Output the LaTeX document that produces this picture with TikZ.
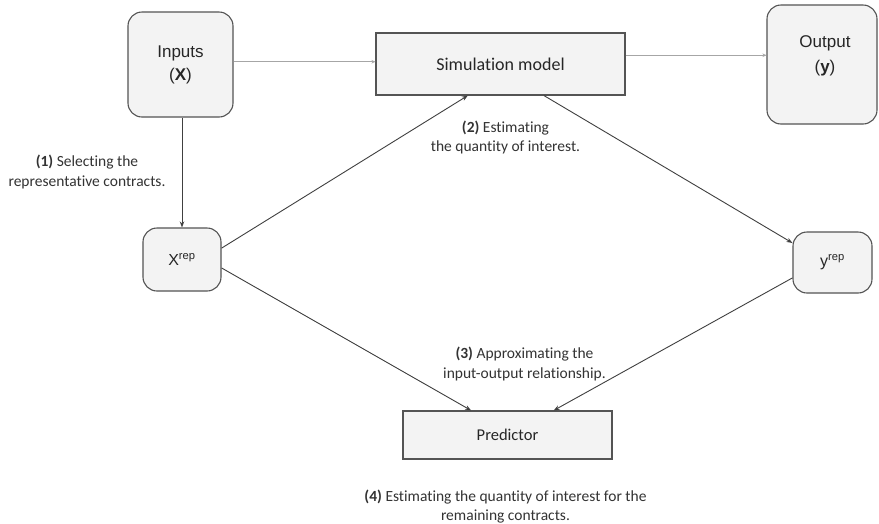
\documentclass[tikz,border=0pt]{standalone}
\usepackage{fontspec}
\setmainfont{Carlito}[Ligatures = NoCommon]
\newfontfamily\arialfont{Liberation Sans}
\usetikzlibrary{arrows.meta}
\usetikzlibrary{positioning}
\tikzset{box/.style = {draw = boxline, fill = boxfill, line width = 1.1,
                       inner sep = 0, text = black!85}}
\tikzset{rbox/.style = {box, rounded corners = 14, font = \arialfont\fontsize{17}{23}\selectfont}}
\tikzset{note/.style = {align = center, text = black!80, font = \fontsize{15.5}{19.5}\selectfont}}
\tikzset{flow/.style = {draw = black!75, line width = 0.9,
                        -{Stealth[length = 6, width = 4.5]}}}
\tikzset{feed/.style = {draw = black!35, line width = 0.9,
                        -{Stealth[length = 4, width = 3.5]}}}
\definecolor{boxfill}{rgb}{0.953, 0.953, 0.953}
\definecolor{boxline}{rgb}{0.33, 0.33, 0.33}

\begin{document}
\begin{tikzpicture}[x = 1pt, y = -1pt]
    \useasboundingbox [fill = white] (0, 0) rectangle (879, 523);

    \node [rbox, align = center, minimum width = 105, minimum height = 105] (inputs) at (180.5, 64.5) {Inputs\\(\textbf{X})};
    \node [box, minimum width = 249, minimum height = 62, font = \fontsize{18}{22}\selectfont] (sim) at (500.5, 64) {Simulation model};
    \node [rbox, minimum width = 110, minimum height = 119] (output) at (822, 64.5) {};
    \node [align = center, text = black!85, font = \arialfont\fontsize{17}{25}\selectfont] (outtext) at (825, 56) {Output\\(\textbf{y})};

    \node [rbox, minimum width = 78, minimum height = 63, font = \arialfont\fontsize{16}{20}\selectfont] (xrep) at (182, 259.5) {X\textsuperscript{rep}};
    \node [rbox, minimum width = 79, minimum height = 61, font = \arialfont\fontsize{16}{20}\selectfont] (yrep) at (832.5, 262.5) {y\textsuperscript{rep}};
    \node [box, minimum width = 209, minimum height = 48, font = \fontsize{16.5}{20}\selectfont] (pred) at (507.5, 435) {Predictor};

    \draw [feed] (inputs.3) -- (inputs.3 -| sim.west);
    \draw [feed] (sim.4) -- (sim.4 -| output.west);
    \draw [flow] (inputs.south -| xrep.north) -- (xrep.north);
    \draw [flow] (xrep.16) -- (sim.224);
    \draw [flow] (sim.324) -- (yrep.154);
    \draw [flow] (xrep.-12) -- (pred.146);
    \draw [flow] (yrep.201) -- (pred.28);

    \node [note] (step1) at (87, 172) {\textbf{(1)} Selecting the\\representative contracts.};
    \node [note] (step2) at (505.5, 137.5) {\textbf{(2)} Estimating\\the quantity of interest.};
    \node [note] (step3) at (524.5, 364) {\textbf{(3)} Approximating the\\input-output relationship.};
    \node [note] (step4) at (505.5, 506.5) {\textbf{(4)} Estimating the quantity of interest for the\\remaining contracts.};
  \end{tikzpicture}
\end{document}
